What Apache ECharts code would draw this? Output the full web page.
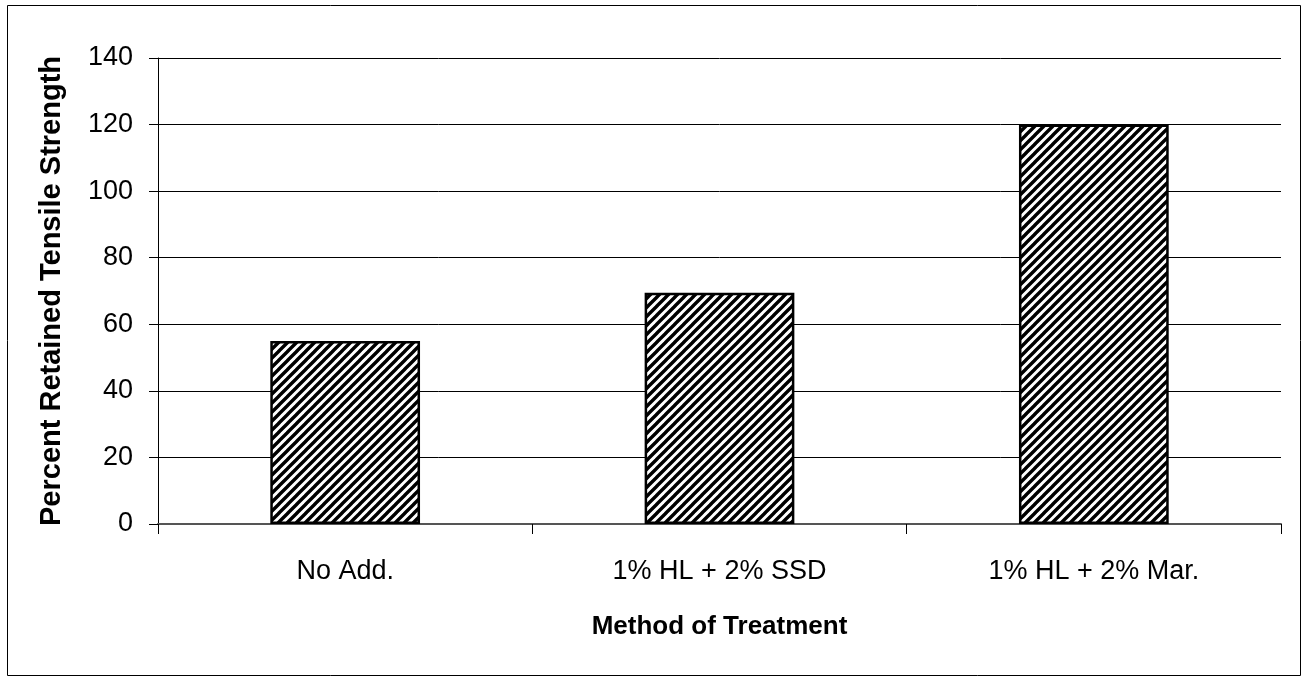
<!DOCTYPE html>
<html><head><meta charset="utf-8">
<script src="https://cdn.jsdelivr.net/npm/echarts@6/dist/echarts.min.js"></script>
<style>html,body{margin:0;padding:0;background:#fff}#c{width:1306px;height:683px}</style>
</head><body><div id="c"></div>
<script>
const categories = ['No Add.', '1% HL + 2% SSD', '1% HL + 2% Mar.'];
const values = [55, 69.5, 120];
const yTicks = [0, 20, 40, 60, 80, 100, 120, 140];

function hatch() {
  const s = 9, c = document.createElement('canvas');
  c.width = s; c.height = s;
  const g = c.getContext('2d');
  g.fillStyle = '#fff'; g.fillRect(0, 0, s, s);
  g.strokeStyle = '#000'; g.lineWidth = 3.4;
  g.beginPath();
  for (let k = -1; k <= 1; k++) {
    g.moveTo(k * s - 1, s + 1); g.lineTo(k * s + s + 1, -1);
  }
  g.stroke();
  return c;
}

const chart = echarts.init(document.getElementById('c'));
const font = 'Liberation Sans, Arial, sans-serif';
chart.setOption({
  animation: false,
  grid: { left: 158, right: 25, top: 58, bottom: 159 },
  graphic: [{ type: 'rect', shape: { x: 7.5, y: 5.5, width: 1293, height: 670 },
    style: { fill: 'none', stroke: '#000', lineWidth: 1 }, silent: true }],
  xAxis: {
    type: 'category', data: categories,
    axisLine: { lineStyle: { color: '#555', width: 2 } },
    axisTick: { show: true, length: 10, lineStyle: { color: '#000' }, alignWithLabel: false },
    axisLabel: { color: '#000', fontFamily: font, fontSize: 27, margin: 34 },
    name: 'Method of Treatment', nameLocation: 'middle', nameGap: 90,
    nameTextStyle: { color: '#000', fontFamily: font, fontSize: 26, fontWeight: 'bold' }
  },
  yAxis: {
    type: 'value', min: yTicks[0], max: yTicks[yTicks.length - 1], interval: 20,
    axisLine: { show: true, lineStyle: { color: '#000', width: 1 } },
    axisTick: { show: true, length: 9, lineStyle: { color: '#000' } },
    splitLine: { lineStyle: { color: '#000', width: 1 } },
    axisLabel: { color: '#000', fontFamily: font, fontSize: 27, margin: 25 },
    name: 'Percent Retained Tensile Strength', nameLocation: 'middle', nameGap: 92,
    nameTextStyle: { color: '#000', fontFamily: font, fontSize: 29, fontWeight: 'bold' }
  },
  series: [{
    type: 'bar', data: values, barWidth: '40%',
    itemStyle: { color: { image: hatch(), repeat: 'repeat' }, borderColor: '#000', borderWidth: 2.5 }
  }]
});
</script></body></html>
